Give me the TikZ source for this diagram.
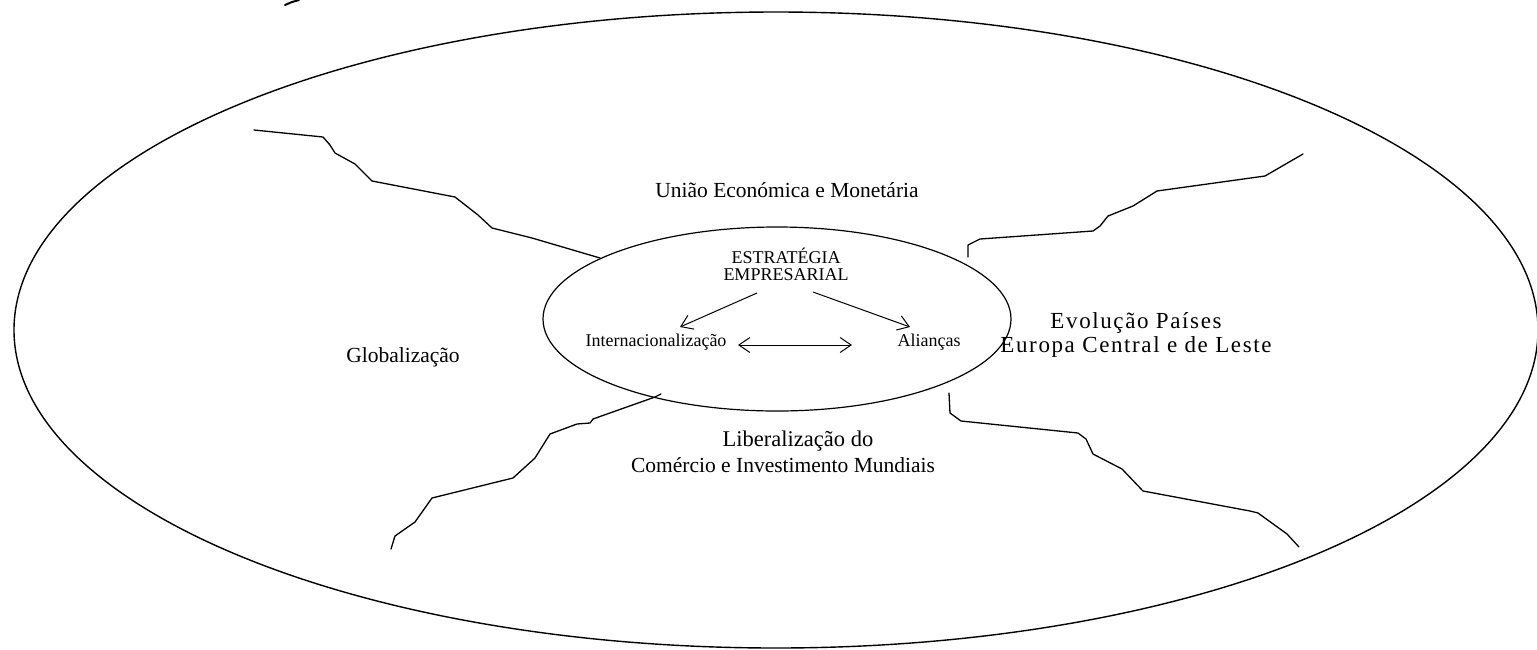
\documentclass[tikz,border=0pt]{standalone}
\usepackage{fontspec}
\setmainfont{Liberation Serif}
\usetikzlibrary{arrows.meta}
\begin{document}
\begin{tikzpicture}[x=1pt,y=-1pt,
  outline/.style={draw=black, line width=1.4pt},
  crack/.style={draw=black, line width=1.3pt, line join=round, line cap=round},
  lbl/.style={inner sep=0pt, align=center, font=\fontsize{21.5}{24}\selectfont},
  widelbl/.style={inner sep=0pt, align=center, font=\fontsize{23}{24}\selectfont\addfontfeature{LetterSpace=7}},
  inlbl/.style={inner sep=0pt, align=center, font=\fontsize{18}{17}\selectfont},
  arr/.style={draw=black, line width=1pt, -{Straight Barb[length=11pt,width=15pt]}},
  darr/.style={draw=black, line width=1pt, {Straight Barb[length=11pt,width=15pt]}-{Straight Barb[length=11pt,width=15pt]}}]
\useasboundingbox (0,0) rectangle (1537,649);
\fill[white] (0,0) rectangle (1537,649);

% outer ellipse
\draw[outline] (776,330) ellipse [x radius=762pt, y radius=318pt];
% inner ellipse
\draw[draw=black, line width=1.2pt] (777,319) ellipse [x radius=234pt, y radius=92pt];

% small fragment at the top
\draw[draw=black, line width=2pt, line cap=round] (285,5) -- (292,2) -- (299,0);

% jagged lines
\draw[crack] (254,130) -- (323,137) -- (330,145) -- (335,153) -- (355,164) -- (372,181)
  -- (455,197) -- (478,215) -- (492,228) -- (532,238) -- (600,258);
\draw[crack] (968,257) -- (968,245) -- (980,239) -- (1093,231) -- (1100,226) -- (1108,216)
  -- (1133,206) -- (1157,191) -- (1265,176) -- (1303,154);
\draw[crack] (661,394) -- (655,397) -- (593,419) -- (590,423) -- (577,424) -- (550,434)
  -- (535,458) -- (513,478) -- (432,498) -- (415,522) -- (395,536) -- (391,549);
\draw[crack] (949,393) -- (950,413) -- (961,421) -- (1078,433) -- (1086,439) -- (1093,454)
  -- (1122,469) -- (1143,491) -- (1250,511) -- (1258,513) -- (1287,534) -- (1299,547);

% texts
\node[lbl] (uniao) at (787,190) {União Económica e Monetária};
\node[inlbl] (estr) at (786,264) {ESTRATÉGIA\\EMPRESARIAL};
\node[inlbl] (intl) at (656,342) {Internacionalização};
\node[inlbl] (alian) at (929,342) {Alianças};
\node[lbl] (glob) at (403,357) {Globalização};
\node[widelbl] (evol) at (1136,335) {Evolução Países\\Europa Central e de Leste};
\node[lbl, font=\fontsize{22.5}{24}\selectfont] (lib1) at (798,441) {Liberalização do};
\node[lbl] (lib2) at (783,465) {Comércio e Investimento Mundiais};

% arrow end points
\coordinate (a1s) at (757,293);
\coordinate (a1e) at (680,327);
\coordinate (a2s) at (813,292);
\coordinate (a2e) at (910,327);
\coordinate (a3s) at (738,345);
\coordinate (a3e) at (852,345);
\draw[arr] (a1s) -- (a1e);
\draw[arr] (a2s) -- (a2e);
\draw[darr] (a3s) -- (a3e);
\end{tikzpicture}
\end{document}
